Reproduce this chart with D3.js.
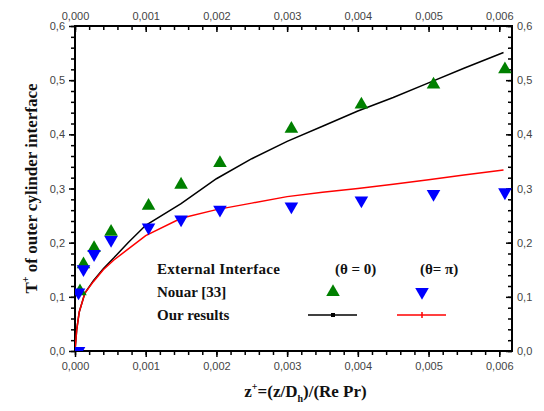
<!DOCTYPE html>
<html>
<head>
<meta charset="utf-8">
<script src="https://cdn.jsdelivr.net/npm/d3@7"></script>
<style>
  body { margin: 0; background: #fff; }
  .tick text { font-family: "Liberation Sans", Arial, sans-serif; font-size: 11px; fill: #444; }
  .lbl { font-family: "Liberation Serif", "Times New Roman", serif; font-weight: bold; fill: #111; }
</style>
</head>
<body>
<div id="chart"></div>
<script>
// ---- data ----
const xTicks = [0, 0.001, 0.002, 0.003, 0.004, 0.005, 0.006];
const yTicks = [0, 0.1, 0.2, 0.3, 0.4, 0.5, 0.6];

// Nouar [33], theta = 0 (green) and theta = pi (blue)
const nouarZ0 = [0.00007, 0.00012, 0.00027, 0.00051, 0.00104, 0.0015, 0.00205, 0.00306, 0.00405, 0.00507, 0.00608];
const nouarT0 = [0.11, 0.16, 0.19, 0.22, 0.268, 0.307, 0.347, 0.41, 0.455, 0.492, 0.52];
const nouarZpi = [0.00005, 0.00005, 0.00012, 0.00027, 0.00051, 0.00104, 0.0015, 0.00205, 0.00306, 0.00405, 0.00507, 0.00608];
const nouarTpi = [0.0, 0.108, 0.151, 0.179, 0.205, 0.228, 0.243, 0.261, 0.267, 0.278, 0.29, 0.293];

// our results (curves)
const oursZ0 = [0, 0.000024, 0.00006, 0.00014, 0.00026, 0.0004, 0.00055, 0.00075, 0.001, 0.0015, 0.002, 0.0025, 0.003, 0.0035, 0.004, 0.0045, 0.005, 0.0055, 0.00606];
const oursT0 = [0, 0.039, 0.072, 0.107, 0.13, 0.152, 0.172, 0.2, 0.232, 0.272, 0.318, 0.355, 0.387, 0.415, 0.443, 0.468, 0.495, 0.522, 0.551];
const oursZpi = [0, 0.000024, 0.00006, 0.00014, 0.00026, 0.0004, 0.00055, 0.00075, 0.001, 0.0015, 0.002, 0.0025, 0.003, 0.0035, 0.004, 0.0045, 0.005, 0.0055, 0.00606];
const oursTpi = [0, 0.039, 0.072, 0.107, 0.128, 0.15, 0.168, 0.188, 0.213, 0.245, 0.261, 0.273, 0.285, 0.293, 0.3, 0.308, 0.316, 0.325, 0.334];

const W = 544, H = 411;
const m = { left: 75, right: 32, top: 26, bottom: 60 };

const svg = d3.select('#chart').append('svg')
	.attr('width', W)
	.attr('height', H);

const x = d3.scaleLinear().domain([0, 0.00618]).range([m.left, W - m.right]);
const y = d3.scaleLinear().domain([0, 0.6]).range([H - m.bottom, m.top]);

const fx = v => d3.format('.3f')(v).replace('.', ',');
const fy = v => d3.format('.1f')(v).replace('.', ',');

const xMinor = d3.range(0, 0.00619, 0.0002);
const yMinor = d3.range(0, 0.601, 0.02);

function styleAxis(g) {
	g.select('.domain').remove();
	g.selectAll('line').attr('stroke', '#000').attr('stroke-width', 1.5);
}

// minor ticks
svg.append('g').attr('transform', `translate(0,${y(0)})`)
	.call(d3.axisBottom(x).tickValues(xMinor).tickSize(4).tickFormat(''))
	.call(styleAxis);
svg.append('g').attr('transform', `translate(0,${y(0.6)})`)
	.call(d3.axisTop(x).tickValues(xMinor).tickSize(-4).tickFormat(''))
	.call(styleAxis);
svg.append('g').attr('transform', `translate(${x.range()[0]},0)`)
	.call(d3.axisLeft(y).tickValues(yMinor).tickSize(4).tickFormat(''))
	.call(styleAxis);
svg.append('g').attr('transform', `translate(${x.range()[1]},0)`)
	.call(d3.axisRight(y).tickValues(yMinor).tickSize(-4).tickFormat(''))
	.call(styleAxis);

// major ticks + labels
svg.append('g').attr('transform', `translate(0,${y(0)})`)
	.call(d3.axisBottom(x).tickValues(xTicks).tickSize(6).tickPadding(5).tickFormat(fx))
	.call(styleAxis);
svg.append('g').attr('transform', `translate(0,${y(0.6)})`)
	.call(d3.axisTop(x).tickValues(xTicks).tickSize(-6).tickPadding(6).tickFormat(fx))
	.call(styleAxis);
svg.append('g').attr('transform', `translate(${x.range()[0]},0)`)
	.call(d3.axisLeft(y).tickValues(yTicks).tickSize(6).tickPadding(4).tickFormat(fy))
	.call(styleAxis);
svg.append('g').attr('transform', `translate(${x.range()[1]},0)`)
	.call(d3.axisRight(y).tickValues(yTicks).tickSize(-6).tickPadding(5).tickFormat(fy))
	.call(styleAxis);

// frame
svg.append('rect')
	.attr('x', x.range()[0]).attr('y', y.range()[1])
	.attr('width', x.range()[1] - x.range()[0])
	.attr('height', y.range()[0] - y.range()[1])
	.attr('fill', 'none').attr('stroke', '#000').attr('stroke-width', 2);

svg.append('clipPath').attr('id', 'clip')
	.append('rect')
	.attr('x', x.range()[0]).attr('y', y.range()[1])
	.attr('width', x.range()[1] - x.range()[0])
	.attr('height', y.range()[0] - y.range()[1]);

const plot = svg.append('g').attr('clip-path', 'url(#clip)');

const line = d3.line().x(d => x(d[0])).y(d => y(d[1]));

plot.append('path')
	.datum(d3.zip(oursZ0, oursT0))
	.attr('d', line)
	.attr('fill', 'none').attr('stroke', '#000').attr('stroke-width', 1.5);

plot.append('path')
	.datum(d3.zip(oursZpi, oursTpi))
	.attr('d', line)
	.attr('fill', 'none').attr('stroke', '#ff0000').attr('stroke-width', 1.5);

const triUp = d3.symbol().type(d3.symbolTriangle).size(80);

plot.selectAll('.up')
	.data(d3.zip(nouarZ0, nouarT0))
	.enter().append('path')
		.attr('class', 'up')
		.attr('d', triUp)
		.attr('transform', d => `translate(${x(d[0])},${y(d[1])})`)
		.attr('fill', '#008000');

plot.selectAll('.down')
	.data(d3.zip(nouarZpi, nouarTpi))
	.enter().append('path')
		.attr('class', 'down')
		.attr('d', triUp)
		.attr('transform', d => `translate(${x(d[0])},${y(d[1])}) rotate(180)`)
		.attr('fill', '#0000ff');

// legend
const lg = svg.append('g').attr('class', 'legend');
lg.append('text').attr('class', 'lbl').attr('x', 157).attr('y', 274)
	.style('font-size', '15px').style('letter-spacing', '0.3px').text('External Interface');
lg.append('text').attr('class', 'lbl').attr('x', 335).attr('y', 274)
	.style('font-size', '15px').text('(\u03b8 = 0)');
lg.append('text').attr('class', 'lbl').attr('x', 420).attr('y', 274)
	.style('font-size', '15px').text('(\u03b8= \u03c0)');
lg.append('text').attr('class', 'lbl').attr('x', 157).attr('y', 297)
	.style('font-size', '15px').text('Nouar [33]');
lg.append('text').attr('class', 'lbl').attr('x', 157).attr('y', 320)
	.style('font-size', '15px').text('Our results');

lg.append('path').attr('d', triUp).attr('transform', 'translate(333,292)').attr('fill', '#008000');
lg.append('path').attr('d', triUp).attr('transform', 'translate(422,292) rotate(180)').attr('fill', '#0000ff');

lg.append('line').attr('x1', 308).attr('x2', 357).attr('y1', 315).attr('y2', 315)
	.attr('stroke', '#000').attr('stroke-width', 1.5);
lg.append('rect').attr('x', 331).attr('y', 313).attr('width', 4).attr('height', 4).attr('fill', '#000');
lg.append('line').attr('x1', 397).attr('x2', 446).attr('y1', 315).attr('y2', 315)
	.attr('stroke', '#ff0000').attr('stroke-width', 1.5);
lg.append('line').attr('x1', 422).attr('x2', 422).attr('y1', 312).attr('y2', 318)
	.attr('stroke', '#ff0000').attr('stroke-width', 1.5);

// axis titles
const xt = svg.append('text').attr('class', 'lbl')
	.attr('x', (x.range()[0] + x.range()[1]) / 2 + 12).attr('y', 397)
	.attr('text-anchor', 'middle').style('font-size', '17px');
xt.append('tspan').text('z');
xt.append('tspan').attr('dy', -7).style('font-size', '10px').text('+');
xt.append('tspan').attr('dy', 7).text('=(z/D');
xt.append('tspan').attr('dy', 5).style('font-size', '10px').text('h');
xt.append('tspan').attr('dy', -5).text(')/(Re Pr)');

const yt = svg.append('text').attr('class', 'lbl')
	.attr('transform', `translate(37,${(y.range()[0] + y.range()[1]) / 2}) rotate(-90)`)
	.attr('text-anchor', 'middle').style('font-size', '17px');
yt.append('tspan').text('T');
yt.append('tspan').attr('dy', -8).style('font-size', '10px').text('+');
yt.append('tspan').attr('dy', 8).text(' of outer cylinder interface');
</script>
</body>
</html>
